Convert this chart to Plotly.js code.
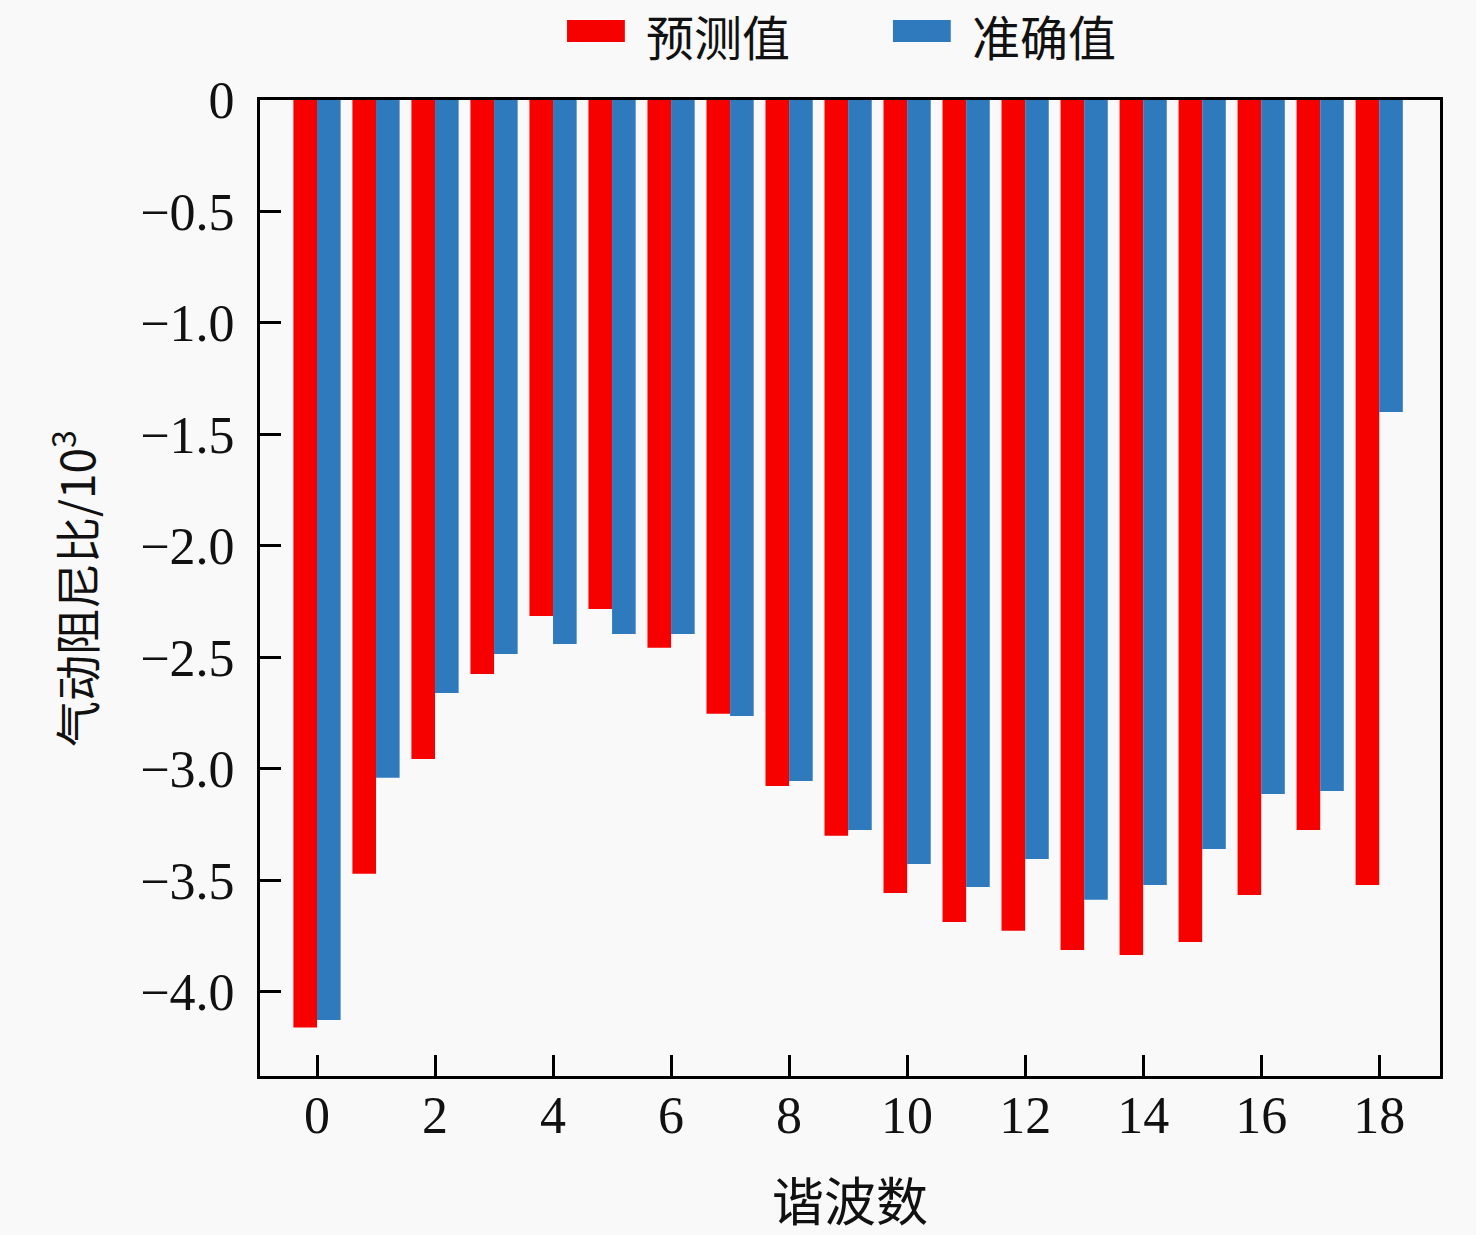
<!DOCTYPE html>
<html>
<head>
<meta charset="utf-8">
<script src="https://cdn.plot.ly/plotly-3.0.1.min.js"></script>
<style>
  body { margin: 0; background: #f9f9f9; }
  #chart { width: 1476px; height: 1235px; }
</style>
</head>
<body>
<div id="chart"></div>
<script>
var harmonics = [0, 1, 2, 3, 4, 5, 6, 7, 8, 9, 10, 11, 12, 13, 14, 15, 16, 17, 18];

// 预测值
var predicted = [-4.16, -3.47, -2.955, -2.574, -2.314, -2.283, -2.457, -2.753, -3.076, -3.30,
                 -3.556, -3.686, -3.726, -3.812, -3.834, -3.776, -3.565, -3.274, -3.52];
// 准确值
var exact = [-4.126, -3.04, -2.659, -2.484, -2.44, -2.395, -2.395, -2.762, -3.054, -3.274,
             -3.426, -3.529, -3.404, -3.587, -3.52, -3.359, -3.112, -3.099, -1.399];

var seriesNames = ['预测值', '准确值'];
var seriesColors = ['#f70000', '#2f79bd'];

var yTickVals = [0, -0.5, -1.0, -1.5, -2.0, -2.5, -3.0, -3.5, -4.0];
var yTickText = ['0', '\u22120.5', '\u22121.0', '\u22121.5', '\u22122.0', '\u22122.5', '\u22123.0', '\u22123.5', '\u22124.0'];
var xTickVals = [0, 2, 4, 6, 8, 10, 12, 14, 16, 18];

var xTitle = '谐波数';
var yTitle = '气动阻尼比/10<sup>3</sup>';

var fontFam = '"Liberation Serif", "Times New Roman", "Noto Sans CJK SC", serif';
var cjkFam = '"Noto Sans CJK SC", "Liberation Serif", serif';

var traces = [
  { type: 'bar', name: seriesNames[0], x: harmonics, y: predicted, marker: { color: seriesColors[0] } },
  { type: 'bar', name: seriesNames[1], x: harmonics, y: exact, marker: { color: seriesColors[1] } }
];

// legend drawn by hand: wide flat swatches like the figure
var swatchX = [0.2602, 0.5364];
var shapes = [];
var annotations = [];
for (var i = 0; i < seriesNames.length; i++) {
  shapes.push({
    type: 'rect', xref: 'paper', yref: 'paper',
    x0: swatchX[i], x1: swatchX[i] + 0.049,
    y0: 1.0594, y1: 1.082,
    fillcolor: seriesColors[i], line: { width: 0 }
  });
  annotations.push({
    xref: 'paper', yref: 'paper',
    x: swatchX[i] + 0.066, y: 1.0666,
    xanchor: 'left', yanchor: 'middle',
    text: seriesNames[i], showarrow: false, borderpad: 0,
    font: { family: cjkFam, size: 48, color: '#111' }
  });
}
annotations.push({
  xref: 'paper', yref: 'paper', x: 0.5, y: -0.125,
  xanchor: 'center', yanchor: 'middle', showarrow: false,
  text: xTitle, font: { family: cjkFam, size: 52, color: '#111' }
});
annotations.push({
  xref: 'paper', yref: 'paper', x: -0.1585, y: 0.5,
  xanchor: 'center', yanchor: 'middle', showarrow: false, textangle: -90,
  text: yTitle, font: { family: cjkFam, size: 46, color: '#111' }
});

var layout = {
  width: 1476,
  height: 1235,
  margin: { l: 260, r: 36, t: 100, b: 159, autoexpand: false },
  paper_bgcolor: '#f9f9f9',
  plot_bgcolor: '#f9f9f9',
  barmode: 'group',
  bargap: 0.2,
  bargroupgap: 0,
  font: { family: fontFam, color: '#111', size: 50 },
  showlegend: false,
  shapes: shapes,
  annotations: annotations,
  xaxis: {
    range: [-0.966, 19.03],
    tickvals: xTickVals,
    ticks: 'inside',
    ticklen: 21,
    tickwidth: 3,
    tickcolor: '#000',
    showline: true,
    linewidth: 3,
    linecolor: '#000',
    mirror: true,
    showgrid: false,
    zeroline: false,
    ticklabelstandoff: -8,
    tickfont: { family: fontFam, size: 52, color: '#111' }
  },
  yaxis: {
    range: [-4.377, 0],
    tickvals: yTickVals,
    ticktext: yTickText,
    ticks: 'inside',
    ticklen: 21,
    tickwidth: 3,
    tickcolor: '#000',
    showline: true,
    linewidth: 3,
    linecolor: '#000',
    mirror: true,
    showgrid: false,
    zeroline: false,
    ticklabelstandoff: 12,
    tickfont: { family: fontFam, size: 52, color: '#111' }
  }
};

Plotly.newPlot('chart', traces, layout, { displayModeBar: false, staticPlot: true });
</script>
</body>
</html>
